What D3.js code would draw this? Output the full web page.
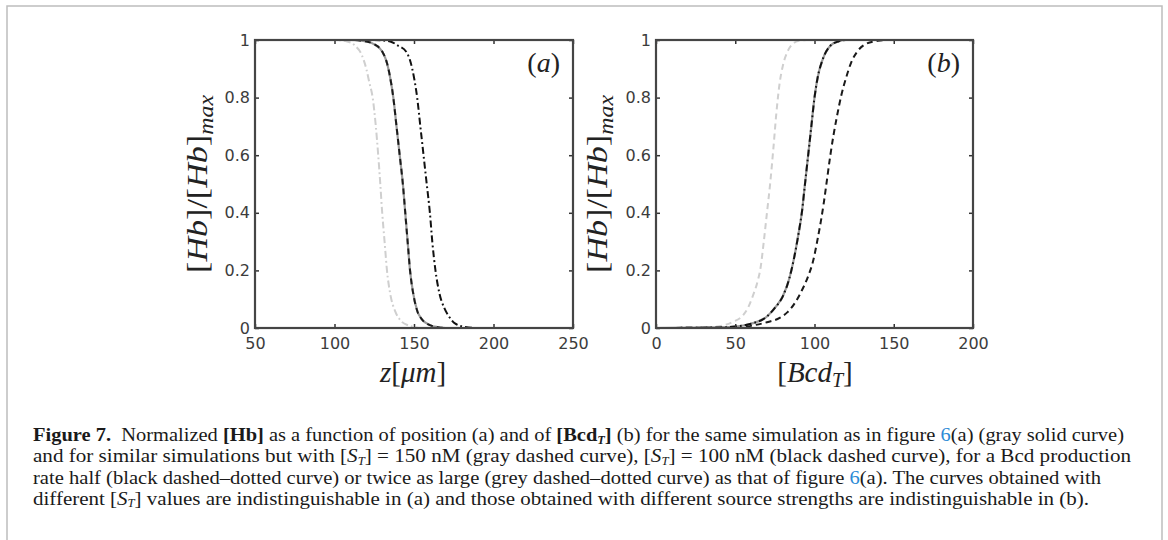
<!DOCTYPE html>
<html><head><meta charset="utf-8">
<script src="https://cdn.jsdelivr.net/npm/d3@7"></script>
<style>body{margin:0;background:#fff}svg{display:block}</style>
</head><body>
<svg id="c" width="1168" height="540"></svg>
<script>
// ---- data ----
const xTicksA = [50, 100, 150, 200, 250];
const xTicksB = [0, 50, 100, 150, 200];
const yTicks = [0, 0.2, 0.4, 0.6, 0.8, 1];
const yTickLabels = ["0", "0.2", "0.4", "0.6", "0.8", "1"];

// panel (a): z [um] vs normalized Hb
const aRefX = [50,110,120,125,130,133,135,137,139,141,143,144.5,146,147.5,149.5,152,155,160,165,170,250];
const aRefY = [1,1,0.995,0.985,0.96,0.92,0.87,0.8,0.7,0.6,0.5,0.4,0.3,0.2,0.12,0.06,0.03,0.01,0.003,0,0];
const aHalfX = [50,125,135,140,145,148,150,152,154,156,158,160,161.5,163.5,166,169,172,176,182,190,250];
const aHalfY = [1,1,0.995,0.98,0.96,0.92,0.87,0.8,0.7,0.6,0.5,0.4,0.3,0.2,0.12,0.07,0.04,0.015,0.004,0,0];
const aTwiceX = [50,100,108,113,117,120,122,124,126,127.5,128.8,130,131.5,133,135,138,141,146,155,250];
const aTwiceY = [1,1,0.995,0.98,0.95,0.9,0.85,0.8,0.7,0.6,0.5,0.4,0.3,0.2,0.12,0.06,0.03,0.01,0,0];

// panel (b): Bcd_T vs normalized Hb
const bRefX = [0,40,50,60,70,75,80,84,87,90,92,94,96,98,100,102,105,110,115,120,157];
const bRefY = [0,0.002,0.005,0.015,0.04,0.07,0.11,0.17,0.24,0.33,0.4,0.5,0.6,0.7,0.8,0.87,0.93,0.98,0.995,1,1];
const b150X = [0,30,40,48,55,58,61,64,66,68,70,72,74,76,78,80,83,86,90,95,157];
const b150Y = [0,0.002,0.006,0.02,0.045,0.07,0.11,0.16,0.21,0.3,0.4,0.5,0.62,0.75,0.85,0.91,0.96,0.985,0.997,1,1];
const b100X = [0,50,60,70,78,83,88,92,96,99,102,104,106,108,110,112,114,117,120,123,127,132,140,148,157];
const b100Y = [0,0.003,0.008,0.02,0.035,0.055,0.09,0.13,0.18,0.23,0.31,0.37,0.44,0.52,0.6,0.67,0.73,0.81,0.87,0.92,0.96,0.985,0.997,1,1];

const captionLines = [
  [{t:"Figure 7.",b:1},{t:"  Normalized "},{t:"[Hb]",b:1},{t:" as a function of position (a) and of "},{t:"[Bcd",b:1},{t:"T",b:1,i:1,sub:1},{t:"]",b:1},{t:" (b) for the same simulation as in figure "},{t:"6",c:"#2b8ad6"},{t:"(a) (gray solid curve)"}],
  [{t:"and for similar simulations but with ["},{t:"S",i:1},{t:"T",i:1,sub:1},{t:"] = 150 nM (gray dashed curve), ["},{t:"S",i:1},{t:"T",i:1,sub:1},{t:"] = 100 nM (black dashed curve), for a Bcd production"}],
  [{t:"rate half (black dashed\u2013dotted curve) or twice as large (grey dashed\u2013dotted curve) as that of figure "},{t:"6",c:"#2b8ad6"},{t:"(a). The curves obtained with"}],
  [{t:"different ["},{t:"S",i:1},{t:"T",i:1,sub:1},{t:"] values are indistinguishable in (a) and those obtained with different source strengths are indistinguishable in (b)."}]
];

// ---- drawing ----
const svg = d3.select("#c");
svg.append("rect").attr("x",7).attr("y",6).attr("width",1155).attr("height",560)
  .attr("fill","none").attr("stroke","#bdbdbd").attr("stroke-width",1.5);

const plotTop = 40, plotBottom = 328;
const y = d3.scaleLinear().domain([0,1]).range([plotBottom, plotTop]);
const serif = "'Liberation Serif', 'Times New Roman', serif";

const styles = {
  graySolid: {stroke:"#9a9a9a", dash:null, w:2.2},
  grayDash: {stroke:"#cfcfcf", dash:"6,4", w:2},
  blackDash: {stroke:"#1a1a1a", dash:"6,4", w:2},
  blackDashDot: {stroke:"#111", dash:"7,3,1.8,3", w:2},
  grayDashDot: {stroke:"#cfcfcf", dash:"7,3,1.8,3", w:2}
};

function panel(x0, x1, domain, ticks, series, label, ylabX) {
  const x = d3.scaleLinear().domain(domain).range([x0, x1]);
  const g = svg.append("g");
  const line = d3.line().x(d=>x(d[0])).y(d=>y(d[1])).curve(d3.curveMonotoneX);
  const clip = "clip" + label;
  g.append("clipPath").attr("id", clip).append("rect").attr("x",x0).attr("y",plotTop-1).attr("width",x1-x0).attr("height",plotBottom-plotTop+2);
  series.forEach(s => {
    const st = styles[s.style];
    const pts = s.x.map((v,i)=>[v, s.y[i]]);
    g.append("path").attr("d", line(pts)).attr("fill","none")
      .attr("stroke", st.stroke).attr("stroke-width", st.w)
      .attr("stroke-dasharray", st.dash).attr("clip-path", `url(#${clip})`);
  });
  const bot = g.append("g").attr("transform",`translate(0,${plotBottom})`)
    .call(d3.axisBottom(x).tickValues(ticks).tickSizeInner(-4).tickSizeOuter(0).tickPadding(10).tickFormat(d3.format("d")));
  const tp = g.append("g").attr("transform",`translate(0,${plotTop})`)
    .call(d3.axisTop(x).tickValues(ticks).tickSizeInner(-4).tickSizeOuter(0).tickFormat(""));
  const lf = g.append("g").attr("transform",`translate(${x0},0)`)
    .call(d3.axisLeft(y).tickValues(yTicks).tickSizeInner(-4).tickSizeOuter(0).tickPadding(5).tickFormat((d,i)=>yTickLabels[i]));
  const rt = g.append("g").attr("transform",`translate(${x1},0)`)
    .call(d3.axisRight(y).tickValues(yTicks).tickSizeInner(-4).tickSizeOuter(0).tickFormat(""));
  [bot,tp,lf,rt].forEach(a=>{
    a.select(".domain").remove();
    a.selectAll(".tick line").attr("stroke","#333").attr("stroke-width",1.5);
    a.selectAll("text").attr("fill","#3c3c3c").attr("font-family","'DejaVu Sans', sans-serif").attr("font-size",16);
  });
  g.append("rect").attr("x",x0).attr("y",plotTop).attr("width",x1-x0).attr("height",plotBottom-plotTop)
    .attr("fill","none").attr("stroke","#454545").attr("stroke-width",2.2);
  const pl = g.append("text").attr("x", x1-13).attr("y", 72).attr("text-anchor","end")
    .attr("font-family",serif).attr("font-size",28).attr("fill","#222");
  pl.append("tspan").text("(");
  pl.append("tspan").attr("font-style","italic").text(label);
  pl.append("tspan").text(")");
  const yl = g.append("text").attr("transform",`translate(${ylabX},${(plotTop+plotBottom)/2}) rotate(-90)`)
    .attr("text-anchor","middle").attr("font-family",serif).attr("font-size",30).attr("fill","#222")
    .attr("textLength",178).attr("lengthAdjust","spacingAndGlyphs");
  yl.append("tspan").text("[");
  yl.append("tspan").attr("font-style","italic").text("Hb");
  yl.append("tspan").text("]/[");
  yl.append("tspan").attr("font-style","italic").text("Hb");
  yl.append("tspan").text("]");
  yl.append("tspan").attr("font-style","italic").attr("font-size",21).attr("dy",6).text("max");
  return x;
}

panel(255, 573, [50,250], xTicksA, [
  {x:aRefX, y:aRefY, style:"graySolid"},
  {x:aRefX, y:aRefY, style:"grayDash"},
  {x:aRefX, y:aRefY, style:"blackDash"},
  {x:aTwiceX, y:aTwiceY, style:"grayDashDot"},
  {x:aHalfX, y:aHalfY, style:"blackDashDot"}
], "a", 207);

panel(656, 973, [0,200], xTicksB, [
  {x:b150X, y:b150Y, style:"grayDash"},
  {x:b100X, y:b100Y, style:"blackDash"},
  {x:bRefX, y:bRefY, style:"graySolid"},
  {x:bRefX, y:bRefY, style:"grayDashDot"},
  {x:bRefX, y:bRefY, style:"blackDashDot"}
], "b", 607);

const xa = svg.append("text").attr("x",413).attr("y",382).attr("text-anchor","middle")
  .attr("font-family",serif).attr("font-size",29).attr("fill","#222");
xa.append("tspan").attr("font-style","italic").text("z");
xa.append("tspan").text("[");
xa.append("tspan").attr("font-style","italic").text("\u03bcm");
xa.append("tspan").text("]");
const xb = svg.append("text").attr("x",815).attr("y",382).attr("text-anchor","middle")
  .attr("font-family",serif).attr("font-size",29).attr("fill","#222");
xb.append("tspan").text("[");
xb.append("tspan").attr("font-style","italic").text("Bcd");
xb.append("tspan").attr("font-style","italic").attr("font-size",20).attr("dy",5).text("T");
xb.append("tspan").attr("dy",-5).text("]");

const lineEnds = [1124, 1131, 1101, 1089];
captionLines.forEach((ln, i) => {
  const t = svg.append("text").attr("x",33).attr("y",441 + i*21.3)
    .attr("font-family",serif).attr("font-size",19).attr("fill","#1a1a1a")
    .attr("textLength", lineEnds[i]-33).attr("lengthAdjust","spacingAndGlyphs")
    .style("white-space","pre");
  let prevSub = false;
  ln.forEach(p => {
    const s = t.append("tspan").text(p.t);
    if (p.b) s.attr("font-weight","bold");
    if (p.i) s.attr("font-style","italic");
    if (p.c) s.attr("fill", p.c);
    if (p.sub) { s.attr("font-size",11.5).attr("dy",2.5); }
    else if (prevSub) { s.attr("dy",-2.5); }
    prevSub = !!p.sub;
  });
});
</script>
</body></html>
